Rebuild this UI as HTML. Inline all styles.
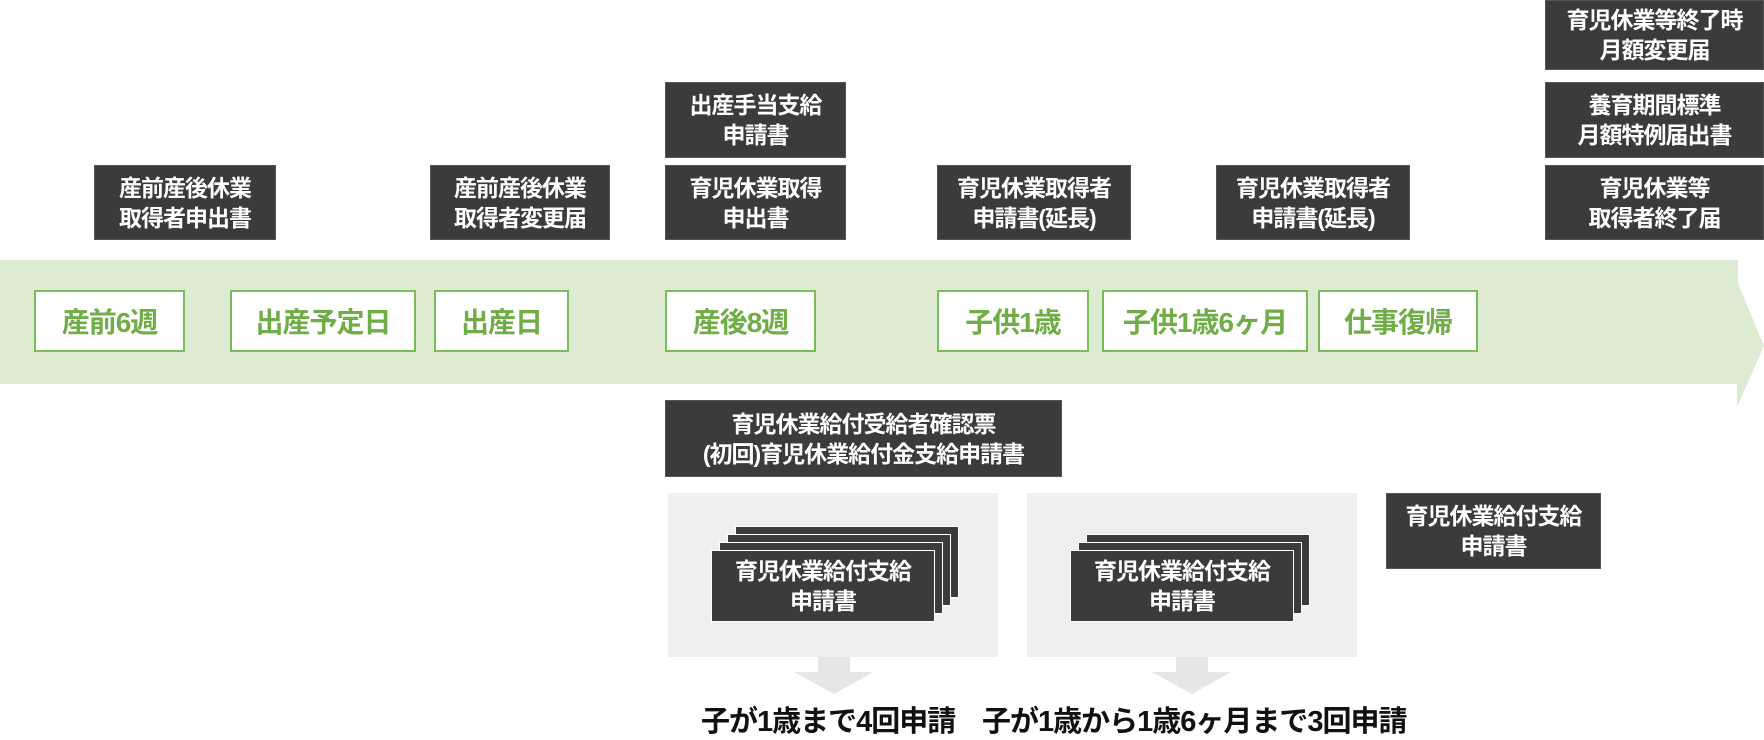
<!DOCTYPE html>
<html><head><meta charset="utf-8"><style>
body{margin:0;width:1764px;height:730px;position:relative;background:#fff;overflow:hidden;font-family:"Liberation Sans","Noto Sans CJK JP",sans-serif;font-weight:bold}
.d{position:absolute;background:#3b3b3b;color:#fff;font-size:23px;line-height:30px;display:flex;align-items:center;justify-content:center;text-align:center;box-sizing:border-box;border:1px solid #555;white-space:nowrap;letter-spacing:-1px}
.g{position:absolute;background:#fff;border:2px solid #7bbb59;color:#70ad47;font-size:28px;display:flex;align-items:center;justify-content:center;box-sizing:border-box;top:290px;height:62px;white-space:nowrap;letter-spacing:-1px}
.p{position:absolute;background:#efefef;top:493px;height:164px}
.s{position:absolute;background:#3b3b3b;border:1px solid #fff;box-sizing:border-box}
.t{position:absolute;top:698px;font-size:29px;color:#111;white-space:nowrap;letter-spacing:-1px}
</style></head><body>
<div style="position:absolute;left:0;top:260px;width:1738px;height:124px;background:#deebd3"></div>
<svg style="position:absolute;left:0;top:0" width="1764" height="730"><polygon points="1737,281 1764,346 1737,407" fill="#deebd3"/>
<polygon points="818,657 850,657 850,672 873,672 834,694 794,672 818,672" fill="#e6e6e6"/>
<polygon points="1176,657 1208,657 1208,672 1231,672 1192,694 1152,672 1176,672" fill="#e6e6e6"/></svg>
<div class="g" style="left:34px;width:151px">産前6週</div>
<div class="g" style="left:230px;width:186px">出産予定日</div>
<div class="g" style="left:434px;width:135px">出産日</div>
<div class="g" style="left:665px;width:151px">産後8週</div>
<div class="g" style="left:937px;width:152px">子供1歳</div>
<div class="g" style="left:1102px;width:206px">子供1歳6ヶ月</div>
<div class="g" style="left:1318px;width:160px">仕事復帰</div>
<div class="d" style="left:94px;top:165px;width:182px;height:75px">産前産後休業<br>取得者申出書</div>
<div class="d" style="left:430px;top:165px;width:180px;height:75px">産前産後休業<br>取得者変更届</div>
<div class="d" style="left:665px;top:82px;width:181px;height:76px">出産手当支給<br>申請書</div>
<div class="d" style="left:665px;top:165px;width:181px;height:75px">育児休業取得<br>申出書</div>
<div class="d" style="left:937px;top:165px;width:194px;height:75px">育児休業取得者<br>申請書(延長)</div>
<div class="d" style="left:1216px;top:165px;width:194px;height:75px">育児休業取得者<br>申請書(延長)</div>
<div class="d" style="left:1545px;top:0;width:219px;height:70px">育児休業等終了時<br>月額変更届</div>
<div class="d" style="left:1545px;top:82px;width:219px;height:76px">養育期間標準<br>月額特例届出書</div>
<div class="d" style="left:1545px;top:165px;width:219px;height:75px">育児休業等<br>取得者終了届</div>
<div class="d" style="left:665px;top:400px;width:397px;height:77px">育児休業給付受給者確認票<br>(初回)育児休業給付金支給申請書</div>
<div class="p" style="left:668px;width:330px"></div>
<div class="p" style="left:1027px;width:330px"></div>
<div class="s" style="left:735px;top:526px;width:224px;height:72px"></div>
<div class="s" style="left:727px;top:534px;width:224px;height:72px"></div>
<div class="s" style="left:719px;top:542px;width:224px;height:72px"></div>
<div class="d" style="left:711px;top:550px;width:224px;height:72px;border-color:#fff">育児休業給付支給<br>申請書</div>
<div class="s" style="left:1086px;top:534px;width:224px;height:72px"></div>
<div class="s" style="left:1078px;top:542px;width:224px;height:72px"></div>
<div class="d" style="left:1070px;top:550px;width:224px;height:72px;border-color:#fff">育児休業給付支給<br>申請書</div>
<div class="d" style="left:1386px;top:493px;width:215px;height:76px">育児休業給付支給<br>申請書</div>
<div class="t" style="left:701px">子が1歳まで4回申請</div>
<div class="t" style="left:982px">子が1歳から1歳6ヶ月まで3回申請</div>
</body></html>
